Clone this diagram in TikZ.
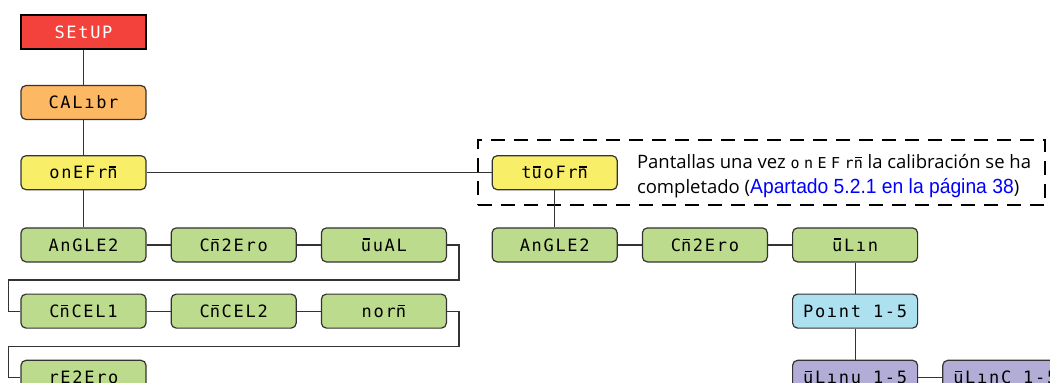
\documentclass[tikz,border=0pt]{standalone}
\usepackage{fontspec}
\setmainfont{Open Sans}
\newfontfamily\segfont[LetterSpace=10]{DejaVu Sans Mono}
\newfontfamily\segfontwide[LetterSpace=30]{DejaVu Sans Mono}
\newfontfamily\reffont[FakeStretch=0.94]{Liberation Sans}
\usepackage{xcolor}
\usepackage{tikz}
\usetikzlibrary{positioning,fit,backgrounds}
\definecolor{segred}{HTML}{F2423B}
\definecolor{segorange}{HTML}{FDB863}
\definecolor{segyellow}{HTML}{F8EE68}
\definecolor{seggreen}{HTML}{BDDB8D}
\definecolor{segblue}{HTML}{AEE1EF}
\definecolor{segpurple}{HTML}{B2ADD6}
% overlined 7-segment letters (M and W)
\newcommand{\segbar}[1]{\rlap{\hspace{0.1em}\rule[0.66em]{0.42em}{0.08em}}#1}
\newcommand{\segM}{\segbar{n}}
\newcommand{\segW}{\segbar{u}}
\tikzset{
  seg/.style  = {rectangle, rounded corners=5pt, draw=black!80, line width=1.2pt,
                 minimum width=125pt, minimum height=34pt, inner sep=0pt,
                 font=\segfont\fontsize{17}{17}\selectfont},
  segr/.style = {seg, sharp corners, fill=segred, text=white, draw=black, line width=1.8pt},
  sego/.style = {seg, fill=segorange},
  segy/.style = {seg, fill=segyellow},
  segg/.style = {seg, fill=seggreen},
  segb/.style = {seg, fill=segblue},
  segp/.style = {seg, fill=segpurple},
  ln/.style   = {line width=1.2pt, black!80},
  grp/.style  = {rectangle, draw=black, line width=1.8pt, dash pattern=on 14pt off 9pt,
                 inner xsep=14pt, inner ysep=15pt},
}
\begin{document}
\begin{tikzpicture}[node distance=31pt and 24pt]
  \useasboundingbox (0,0) rectangle (1050pt,-383pt);

  \node[segr] (setup) at (83.5pt,-32pt) {SEtUP};
  \node[sego, below=35pt of setup] (calibr) {CALıbr};
  \node[segy, below=35pt of calibr] (onefrm) {onEFr\segM};

  \node[segg, below=37pt of onefrm] (angle1) {AnGLE2};
  \node[segg, right=of angle1] (cmzero1) {C\segM 2Ero};
  \node[segg, right=of cmzero1] (wval) {\segW uAL};
  \node[segg, below=of angle1] (cmcel1) {C\segM CEL1};
  \node[segg, right=of cmcel1] (cmcel2) {C\segM CEL2};
  \node[segg, right=of cmcel2] (norm) {nor\segM};
  \node[segg, below=of cmcel1] (rezero) {rE2Ero};

  \node[segy, right=345pt of onefrm] (twofrm) {t\segW oFr\segM};
  \node[anchor=west, align=left, inner sep=0pt, font=\fontsize{18.5}{25}\selectfont]
    (note) at ([xshift=19pt,yshift=-3pt]twofrm.east)
    {Pantallas una vez {\segfontwide\fontsize{15}{15}\selectfont onEFr\segM} la calibración se ha\\
     completado ({\reffont\fontsize{20.5}{25}\selectfont\color{blue}Apartado 5.2.1 en la página 38})};
  \node[grp, fit=(twofrm)(note.east)] (frame) {};

  \node[segg, below=37pt of twofrm] (angle2) {AnGLE2};
  \node[segg, right=of angle2] (cmzero2) {C\segM 2Ero};
  \node[segg, right=of cmzero2] (wlin) {\segW Lın};
  \node[segb, below=of wlin] (point) {Poınt 1-5};
  \node[segp, below=of point] (wlinv) {\segW Lınu 1-5};
  \node[segp, right=of wlinv] (wlinc) {\segW LınC 1-5};

  \draw[ln] (setup) -- (calibr);
  \draw[ln] (calibr) -- (onefrm);
  \draw[ln] (onefrm) -- (angle1);
  \draw[ln] (angle1) -- (cmzero1);
  \draw[ln] (cmzero1) -- (wval);
  \draw[ln] (wval.east) -| ++(12pt,-35pt) -| ([xshift=-12pt]cmcel1.west) -- (cmcel1.west);
  \draw[ln] (cmcel1) -- (cmcel2);
  \draw[ln] (cmcel2) -- (norm);
  \draw[ln] (norm.east) -| ++(12pt,-35pt) -| ([xshift=-12pt]rezero.west) -- (rezero.west);
  \draw[ln] (onefrm) -- (twofrm);
  \draw[ln] (twofrm) -- (angle2);
  \draw[ln] (angle2) -- (cmzero2);
  \draw[ln] (cmzero2) -- (wlin);
  \draw[ln] (wlin) -- (point);
  \draw[ln] (point) -- (wlinv);
  \draw[ln] (wlinv) -- (wlinc);

\end{tikzpicture}
\end{document}
